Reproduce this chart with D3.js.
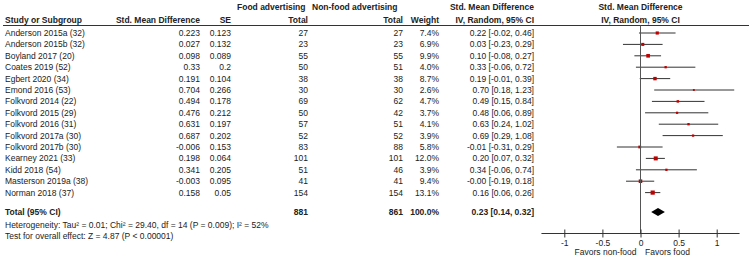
<!DOCTYPE html>
<html>
<head>
<meta charset="utf-8">
<script src="https://cdn.jsdelivr.net/npm/d3@7"></script>
<style>
  body { margin: 0; background: #fff; }
  svg text { font-family: "Liberation Sans", Arial, sans-serif; font-size: 8.5px; fill: #222; }
  .bold { font-weight: bold; }
</style>
</head>
<body>
<svg id="chart" width="749" height="265"></svg>
<script>
// study rows
const studies = ["Anderson 2015a (32)", "Anderson 2015b (32)", "Boyland 2017 (20)", "Coates 2019 (52)", "Egbert 2020 (34)",
  "Emond 2016 (53)", "Folkvord 2014 (22)", "Folkvord 2015 (29)", "Folkvord 2016 (31)", "Folkvord 2017a (30)",
  "Folkvord 2017b (30)", "Kearney 2021 (33)", "Kidd 2018 (54)", "Masterson 2019a (38)", "Norman 2018 (37)"];
const smdRaw = ["0.223", "0.027", "0.098", "0.33", "0.191", "0.704", "0.494", "0.476", "0.631", "0.687", "-0.006", "0.198", "0.341", "-0.003", "0.158"];
const seRaw = ["0.123", "0.132", "0.089", "0.2", "0.104", "0.266", "0.178", "0.212", "0.197", "0.202", "0.153", "0.064", "0.205", "0.095", "0.05"];
const foodTotal = [27, 23, 55, 50, 38, 30, 69, 50, 57, 52, 83, 101, 51, 41, 154];
const nonFoodTotal = [27, 23, 55, 51, 38, 30, 62, 42, 51, 52, 88, 101, 46, 41, 154];
const weight = [7.4, 6.9, 9.9, 4.0, 8.7, 2.6, 4.7, 3.7, 4.1, 3.9, 5.8, 12.0, 3.9, 9.4, 13.1];
const est = [0.22, 0.03, 0.10, 0.33, 0.19, 0.70, 0.49, 0.48, 0.63, 0.69, -0.01, 0.20, 0.34, -0.00, 0.16];
const ciLow = [-0.02, -0.23, -0.08, -0.06, -0.01, 0.18, 0.15, 0.06, 0.24, 0.29, -0.31, 0.07, -0.06, -0.19, 0.06];
const ciHigh = [0.46, 0.29, 0.27, 0.72, 0.39, 1.23, 0.84, 0.89, 1.02, 1.08, 0.29, 0.32, 0.74, 0.18, 0.26];

// pooled
const totalWeight = "100.0%";
const pooled = { est: 0.23, low: 0.14, high: 0.32 };
const heterogeneity = "Heterogeneity: Tau² = 0.01; Chi² = 29.40, df = 14 (P = 0.009); I² = 52%";
const overallTest = "Test for overall effect: Z = 4.87 (P < 0.00001)";

const axisTicks = [-1, -0.5, 0, 0.5, 1];
const favorsLeft = "Favors non-food";
const favorsRight = "Favors food";

const svg = d3.select("#chart");

let fmt = v => (v < 0 || Object.is(v, -0) ? "-" : "") + Math.abs(v).toFixed(2);
let ciText = (e, l, h) => `${fmt(e)} [${fmt(l)}, ${fmt(h)}]`;

// layout
const rowY = d3.scaleLinear().domain([0, 1]).range([33, 44.4]);
const totalY = 212;
const xScale = d3.scaleLinear().domain([-1, 1]).range([564.3, 716.7]);
const axisY = 233.5;

const cols = { name: 5, smd: 200, se: 231, food: 308, nonFood: 403, weight: 439, ci: 534 };

let addText = (x, y, str, anchor, bold) => svg.append("text")
  .attr("x", x).attr("y", y)
  .attr("dy", "0.35em")
  .attr("text-anchor", anchor)
  .attr("class", bold ? "bold" : null)
  .text(str);

// headers
addText(237, 7, "Food advertising", "start", true);
addText(312, 7, "Non-food advertising", "start", true);
addText(cols.ci, 7, "Std. Mean Difference", "end", true);
addText(xScale(0), 7, "Std. Mean Difference", "middle", true);

addText(cols.name, 20, "Study or Subgroup", "start", true);
addText(cols.smd, 20, "Std. Mean Difference", "end", true);
addText(cols.se, 20, "SE", "end", true);
addText(cols.food, 20, "Total", "end", true);
addText(cols.nonFood, 20, "Total", "end", true);
addText(cols.weight, 20, "Weight", "end", true);
addText(cols.ci, 20, "IV, Random, 95% CI", "end", true);
addText(xScale(0), 20, "IV, Random, 95% CI", "middle", true);

svg.append("line")
  .attr("x1", 3).attr("x2", 749)
  .attr("y1", 25.5).attr("y2", 25.5)
  .style("stroke", "#333").style("stroke-width", 1);

// table rows
const rows = svg.selectAll(".row")
  .data(studies.map((s, i) => i))
  .enter()
  .append("g")
  .attr("class", "row")
  .attr("transform", i => `translate(0,${rowY(i)})`);

let cell = (x, anchor, fn) => rows.append("text")
  .attr("x", x).attr("dy", "0.35em")
  .attr("text-anchor", anchor)
  .text(fn);

cell(cols.name, "start", i => studies[i]);
cell(cols.smd, "end", i => smdRaw[i]);
cell(cols.se, "end", i => seRaw[i]);
cell(cols.food, "end", i => foodTotal[i]);
cell(cols.nonFood, "end", i => nonFoodTotal[i]);
cell(cols.weight, "end", i => weight[i].toFixed(1) + "%");
cell(cols.ci, "end", i => ciText(est[i], ciLow[i], ciHigh[i]));

// total rows
addText(cols.name, totalY, "Total (95% CI)", "start", true);
addText(cols.food, totalY, d3.sum(foodTotal), "end", true);
addText(cols.nonFood, totalY, d3.sum(nonFoodTotal), "end", true);
addText(cols.weight, totalY, totalWeight, "end", true);
addText(cols.ci, totalY, ciText(pooled.est, pooled.low, pooled.high), "end", true);
addText(cols.name, 225.5, heterogeneity, "start", false);
addText(cols.name, 236.5, overallTest, "start", false);

// forest plot
svg.append("line")
  .attr("x1", xScale(0)).attr("x2", xScale(0))
  .attr("y1", 25.5).attr("y2", axisY)
  .style("stroke", "#555").style("stroke-width", 1);

rows.append("line")
  .attr("x1", i => xScale(ciLow[i])).attr("x2", i => xScale(ciHigh[i]))
  .style("stroke", "#333").style("stroke-width", 1);

rows.append("rect")
  .attr("x", i => xScale(est[i]) - 0.58 * Math.sqrt(weight[i]))
  .attr("y", i => -0.58 * Math.sqrt(weight[i]))
  .attr("width", i => 1.16 * Math.sqrt(weight[i]))
  .attr("height", i => 1.16 * Math.sqrt(weight[i]))
  .style("fill", "#c00000");

svg.append("path")
  .attr("d", d3.line()([
    [xScale(pooled.low), totalY], [xScale(pooled.est), totalY - 4],
    [xScale(pooled.high), totalY], [xScale(pooled.est), totalY + 4]]) + "Z")
  .style("fill", "#000");

// axis
const axis = d3.axisBottom(xScale)
  .tickValues(axisTicks)
  .tickFormat(d => d)
  .tickSize(4)
  .tickPadding(2);

const axisG = svg.append("g")
  .attr("transform", `translate(0,${axisY})`)
  .call(axis);
axisG.select(".domain")
  .attr("d", `M${xScale(-1.3)},0H${xScale(1.3)}`)
  .style("stroke", "#333");
axisG.selectAll(".tick line")
  .attr("y1", -4)
  .style("stroke", "#333");
axisG.selectAll(".tick text")
  .style("font-family", "'Liberation Sans', Arial, sans-serif")
  .style("font-size", "8.5px")
  .style("fill", "#222");

addText(xScale(0) - 4, 252.5, favorsLeft, "end", false);
addText(xScale(0) + 4.5, 252.5, favorsRight, "start", false);
</script>
</body>
</html>
